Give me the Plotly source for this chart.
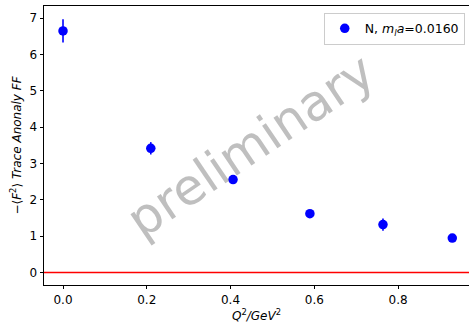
import plotly.graph_objects as go

# Nucleon trace-anomaly form factor vs momentum transfer
q2 = [0.0, 0.2096, 0.406, 0.5895, 0.764, 0.9295]
ff = [6.65, 3.42, 2.56, 1.62, 1.32, 0.95]
ff_err = [0.32, 0.17, 0.08, 0.07, 0.17, 0.07]

x_ticks = [0.0, 0.2, 0.4, 0.6, 0.8]
y_ticks = [0, 1, 2, 3, 4, 5, 6, 7]

FS = 12
font = dict(family="DejaVu Sans", size=FS, color="black")

fig = go.Figure()

# zero reference line
fig.add_shape(type="line", xref="paper", x0=0, x1=1, yref="y", y0=0, y1=0,
              line=dict(color="red", width=1.6), layer="below")

fig.add_trace(go.Scatter(
    x=q2, y=ff, mode="markers",
    marker=dict(color="blue", size=9.5, line=dict(width=0)),
    error_y=dict(type="data", array=ff_err, color="blue", thickness=1.6, width=0),
    name="N, <i>m<sub>l</sub>a</i>=0.0160",
    showlegend=True,
))

fig.add_annotation(
    text="preliminary", x=0.485, y=0.50, xref="paper", yref="paper",
    showarrow=False, textangle=-34,
    font=dict(family="DejaVu Sans", size=50, color="rgba(128,128,128,0.5)"),
)

fig.update_layout(
    width=469, height=324,
    margin=dict(l=44, r=0, t=6, b=39),
    paper_bgcolor="white", plot_bgcolor="white",
    font=font,
    showlegend=True,
    legend=dict(
        x=0.99, y=0.976, xanchor="right", yanchor="top",
        bgcolor="rgba(255,255,255,0.8)", bordercolor="#cccccc", borderwidth=1,
        font=dict(family="DejaVu Sans", size=FS + 0.5),
        itemwidth=30, tracegroupgap=0,
    ),
    xaxis=dict(
        range=[-0.0454, 0.9694], tickvals=x_ticks,
        ticktext=[f"{v:.1f}" for v in x_ticks],
        showgrid=False, zeroline=False,
        showline=True, linecolor="black", linewidth=0.8, mirror=True,
        ticks="outside", ticklen=3.5, tickwidth=0.8, tickcolor="black",
        title=dict(text="<i>Q</i><sup>2</sup><i>/GeV</i><sup>2</sup>",
                   font=dict(family="DejaVu Sans", size=FS), standoff=3),
    ),
    yaxis=dict(
        range=[-0.342, 7.336], tickvals=y_ticks,
        showgrid=False, zeroline=False,
        showline=True, linecolor="black", linewidth=0.8,
        ticks="outside", ticklen=3.5, tickwidth=0.8, tickcolor="black",
        title=dict(text="−⟨<i>F</i><sup>2</sup>⟩ <i>Trace Anonaly FF</i>",
                   font=dict(family="DejaVu Sans", size=FS), standoff=5),
    ),
)

fig.write_html("out.html")
